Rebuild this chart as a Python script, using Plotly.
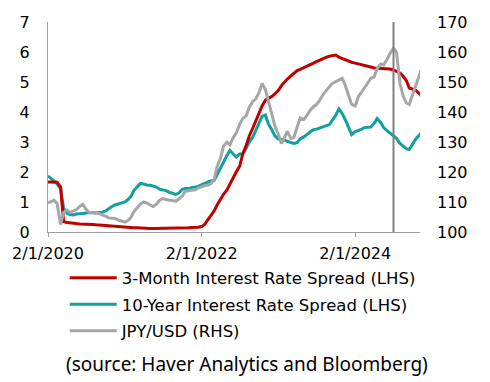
import pandas as pd
import plotly.graph_objects as go

# semi-monthly observation dates (1st and 15th of each month)
dates = pd.date_range("2020-02-01", periods=118, freq="SMS")

jpy_usd = [
    109.7, 110.2, 110.6, 109.5, 102.5, 106.5, 107.3, 106.5, 107.0, 107.5,
    108.5, 109.2, 107.5, 106.5, 106.5, 106.3, 106.2, 105.7, 105.3, 104.7,
    104.5, 104.5, 104.0, 103.7, 103.3, 103.8, 104.8, 106.7, 108.3, 109.3,
    110.0, 109.7, 109.0, 108.5, 109.3, 110.5, 111.2, 110.8, 110.6, 110.5,
    110.3, 111.0, 112.0, 113.6, 113.8, 114.0, 114.1, 114.6, 115.2, 115.5,
    115.6, 116.0, 117.5, 121.8, 124.5, 128.5, 130.0, 129.0, 131.5, 133.0,
    136.0, 137.8, 138.8, 141.5, 143.5, 144.3, 146.5, 149.5, 147.5, 143.5,
    138.5, 135.3, 132.5, 129.5, 131.5, 133.5, 131.2, 131.5, 135.0, 138.0,
    137.5, 138.7, 140.5, 141.6, 142.5, 143.8, 145.8, 147.2, 148.4, 149.5,
    150.2, 150.8, 151.2, 149.0, 145.5, 142.5, 142.0, 145.0, 146.5, 148.0,
    149.5, 151.2, 151.7, 154.5, 156.0, 155.7, 157.5, 159.5, 161.3, 160.0,
    149.5, 145.5, 143.0, 142.5, 146.0, 149.0, 152.5, 155.0,
]

spread_3m = [
    1.67, 1.67, 1.67, 1.66, 1.50, 0.35, 0.32, 0.30, 0.28, 0.28,
    0.27, 0.27, 0.26, 0.25, 0.25, 0.24, 0.23, 0.22, 0.21, 0.20,
    0.19, 0.18, 0.17, 0.16, 0.15, 0.15, 0.14, 0.14, 0.14, 0.13,
    0.13, 0.12, 0.12, 0.12, 0.12, 0.12, 0.12, 0.13, 0.13, 0.13,
    0.13, 0.13, 0.14, 0.14, 0.14, 0.15, 0.15, 0.16, 0.18, 0.25,
    0.40, 0.55, 0.70, 0.90, 1.10, 1.25, 1.40, 1.60, 1.80, 2.00,
    2.20, 2.60, 2.90, 3.20, 3.45, 3.70, 3.95, 4.20, 4.40, 4.45,
    4.52, 4.60, 4.72, 4.88, 5.00, 5.10, 5.20, 5.30, 5.38, 5.42,
    5.47, 5.52, 5.57, 5.62, 5.68, 5.73, 5.77, 5.82, 5.86, 5.88,
    5.90, 5.83, 5.78, 5.74, 5.70, 5.66, 5.63, 5.61, 5.58, 5.56,
    5.53, 5.50, 5.47, 5.46, 5.45, 5.45, 5.45, 5.43, 5.40, 5.35,
    5.30, 5.20, 5.05, 4.80, 4.75, 4.72, 4.62, 4.50,
]

spread_10y = [
    1.87, 1.80, 1.70, 1.60, 1.45, 0.80, 0.62, 0.58, 0.57, 0.60,
    0.60, 0.62, 0.63, 0.65, 0.64, 0.63, 0.65, 0.66, 0.70, 0.78,
    0.85, 0.90, 0.93, 0.97, 1.00, 1.08, 1.18, 1.38, 1.52, 1.62,
    1.60, 1.57, 1.56, 1.53, 1.50, 1.43, 1.40, 1.38, 1.32, 1.28,
    1.25, 1.30, 1.42, 1.45, 1.45, 1.48, 1.50, 1.52, 1.58, 1.62,
    1.66, 1.70, 1.72, 1.92, 2.15, 2.30, 2.55, 2.72, 2.60, 2.50,
    2.60, 2.60, 2.80, 3.00, 3.15, 3.35, 3.60, 3.85, 3.90, 3.60,
    3.40, 3.20, 3.10, 3.08, 3.07, 3.02, 2.97, 2.95, 2.98, 3.10,
    3.17, 3.25, 3.32, 3.40, 3.43, 3.47, 3.52, 3.54, 3.58, 3.72,
    3.90, 4.10, 3.95, 3.75, 3.50, 3.25, 3.35, 3.38, 3.42, 3.48,
    3.50, 3.50, 3.62, 3.78, 3.65, 3.48, 3.38, 3.30, 3.20, 3.12,
    2.95, 2.87, 2.78, 2.75, 2.95, 3.10, 3.22, 3.35,
]

x_ticks = ["2020-02-01", "2022-02-01", "2024-02-01"]
x_tick_labels = ["2/1/2020", "2/1/2022", "2/1/2024"]
left_ticks = [0, 1, 2, 3, 4, 5, 6, 7]
right_ticks = [100, 110, 120, 130, 140, 150, 160, 170]
event_date = "2024-08-01"

RED = "#C00000"
TEAL = "#10A19C"
GRAY = "#A6A6A6"
FONT = "DejaVu Sans, sans-serif"

fig = go.Figure()
fig.add_trace(go.Scatter(x=dates, y=spread_10y, name="10-Year Interest Rate Spread (LHS)",
                         legendgroup="b", legendrank=2,
                         mode="lines", line=dict(color=TEAL, width=3)))
fig.add_trace(go.Scatter(x=dates, y=jpy_usd, name="JPY/USD (RHS)", yaxis="y2",
                         legendgroup="c", legendrank=3,
                         mode="lines", line=dict(color=GRAY, width=3)))
fig.add_trace(go.Scatter(x=dates, y=spread_3m, name="3-Month Interest Rate Spread (LHS)",
                         legendgroup="a", legendrank=1,
                         mode="lines", line=dict(color=RED, width=3)))

fig.add_shape(type="line", xref="x", yref="paper", x0=event_date, x1=event_date,
              y0=0, y1=1, line=dict(color="#7F7F7F", width=2))

fig.update_layout(
    width=490, height=382,
    margin=dict(l=43, r=70, t=22, b=150),
    paper_bgcolor="white", plot_bgcolor="white",
    font=dict(family=FONT, size=16, color="#000000"),
    showlegend=True,
    legend=dict(traceorder="grouped", tracegroupgap=2, orientation="v", x=0.045, xanchor="left",
                y=-0.136, yanchor="top", font=dict(size=16.5, family=FONT),
                bgcolor="rgba(0,0,0,0)", itemwidth=47),
    xaxis=dict(range=["2020-02-01", "2024-12-05"], tickvals=x_ticks, ticktext=x_tick_labels,
               showgrid=False, zeroline=False, showline=True, linecolor="#A0A0A0", linewidth=1,
               ticks="outside", ticklen=4, tickcolor="#A0A0A0", ticklabelstandoff=3),
    yaxis=dict(range=[0, 7], tickvals=left_ticks, showgrid=False, zeroline=False,
               showline=True, linecolor="#A0A0A0", linewidth=1, ticks="", ticklabelstandoff=14),
    yaxis2=dict(range=[100, 170], tickvals=right_ticks, overlaying="y", side="right",
                showgrid=False, zeroline=False, showline=False, ticks="", ticklabelstandoff=16),
    annotations=[dict(text="(source: Haver Analytics and Bloomberg)", xref="paper", yref="paper",
                      x=0.536, y=-0.63, xanchor="center", yanchor="middle", showarrow=False,
                      font=dict(family="Noto Sans, sans-serif", size=19, color="#000000"))],
)

fig.write_html("out.html", config={"displayModeBar": False},
               post_script="document.body.style.margin='0';")
